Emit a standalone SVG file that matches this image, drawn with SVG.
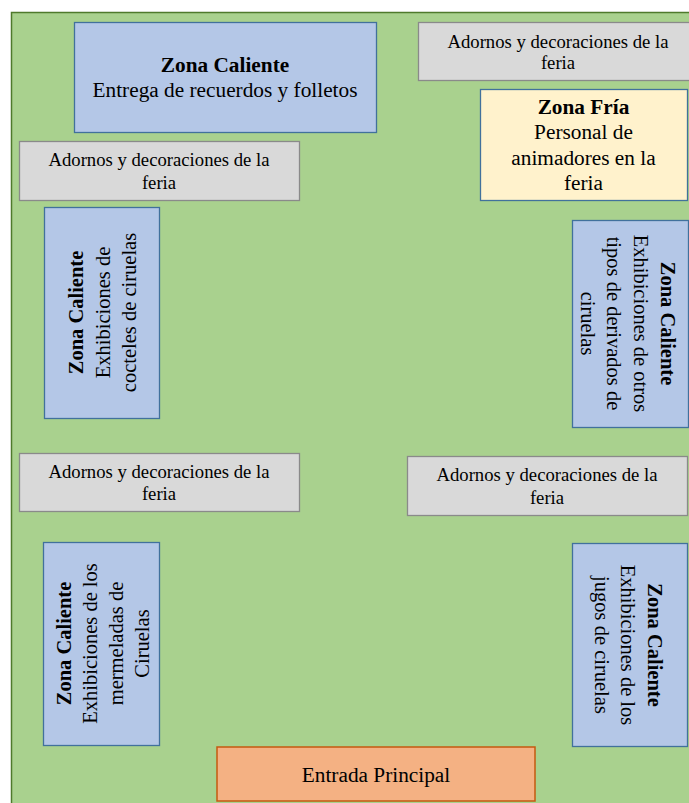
<svg xmlns="http://www.w3.org/2000/svg" width="689" height="803" viewBox="0 0 689 803">
<style>
text{font-family:"Liberation Serif","Times New Roman",serif;fill:#000;text-anchor:middle}
.hot{fill:#b4c7e7;stroke:#41719c;stroke-width:1.3}
.deco{fill:#d9d9d9;stroke:#8a8a8a;stroke-width:1.3}
.cold{fill:#fff2cc;stroke:#41719c;stroke-width:1.3}
.door{fill:#f4b183;stroke:#c55a11;stroke-width:1.5}
.t21{font-size:21.3px}
.t20{font-size:20.5px}
.t18{font-size:18.7px}
.b{font-weight:bold}
</style>
<rect x="0" y="0" width="689" height="803" fill="#ffffff"/>
<rect id="terreno" x="11.5" y="12.5" width="700" height="800" fill="#a9d18e" stroke="#4f7a2c" stroke-width="1.5"/>
<g id="connectors"></g>
<g id="zona-caliente-recuerdos">
<rect class="hot" x="74.5" y="22.5" width="302" height="110"/>
<text class="t21 b" x="225" y="72">Zona Caliente</text>
<text class="t21" x="225" y="97">Entrega de recuerdos y folletos</text>
</g>
<g id="adornos-1">
<rect class="deco" x="418.5" y="22.5" width="280" height="58"/>
<text class="t18" x="558" y="47.5">Adornos y decoraciones de la</text>
<text class="t18" x="558" y="69">feria</text>
</g>
<g id="zona-fria">
<rect class="cold" x="480.5" y="89.5" width="207" height="111"/>
<text class="t21 b" x="583.5" y="113.5">Zona Fría</text>
<text class="t21" x="583.5" y="139">Personal de</text>
<text class="t21" x="583.5" y="164.5">animadores en la</text>
<text class="t21" x="583.5" y="190">feria</text>
</g>
<g id="adornos-2">
<rect class="deco" x="19.5" y="141.5" width="280" height="59"/>
<text class="t18" x="159" y="166">Adornos y decoraciones de la</text>
<text class="t18" x="159" y="188.5">feria</text>
</g>
<g id="zona-caliente-cocteles">
<rect class="hot" x="44.5" y="207.5" width="115" height="211"/>
<text class="t20 b" x="83" y="312.5" transform="rotate(-90 83 312.5)">Zona Caliente</text>
<text class="t20" x="109.5" y="312.5" transform="rotate(-90 109.5 312.5)">Exhibiciones de</text>
<text class="t20" x="136" y="312.5" transform="rotate(-90 136 312.5)">cocteles de ciruelas</text>
</g>
<g id="zona-caliente-derivados">
<rect class="hot" x="572.5" y="220.5" width="116" height="207"/>
<text class="t20 b" x="660.5" y="323.5" transform="rotate(90 660.5 323.5)">Zona Caliente</text>
<text class="t20" x="633.5" y="323.5" transform="rotate(90 633.5 323.5)">Exhibiciones de otros</text>
<text class="t20" x="607" y="323.5" transform="rotate(90 607 323.5)">tipos de derivados de</text>
<text class="t20" x="580.5" y="323.5" transform="rotate(90 580.5 323.5)">ciruelas</text>
</g>
<g id="adornos-3">
<rect class="deco" x="19.5" y="453.5" width="280" height="58"/>
<text class="t18" x="159" y="477.5">Adornos y decoraciones de la</text>
<text class="t18" x="159" y="500">feria</text>
</g>
<g id="adornos-4">
<rect class="deco" x="407.5" y="456.5" width="280" height="59"/>
<text class="t18" x="547" y="481">Adornos y decoraciones de la</text>
<text class="t18" x="547" y="503.5">feria</text>
</g>
<g id="zona-caliente-mermeladas">
<rect class="hot" x="43.5" y="542.5" width="116" height="203"/>
<text class="t20 b" x="70.5" y="643.5" transform="rotate(-90 70.5 643.5)">Zona Caliente</text>
<text class="t20" x="96.5" y="643.5" transform="rotate(-90 96.5 643.5)">Exhibiciones de los</text>
<text class="t20" x="122.5" y="643.5" transform="rotate(-90 122.5 643.5)">mermeladas de</text>
<text class="t20" x="148.5" y="643.5" transform="rotate(-90 148.5 643.5)">Ciruelas</text>
</g>
<g id="zona-caliente-jugos">
<rect class="hot" x="572.5" y="543.5" width="115" height="203"/>
<text class="t20 b" x="647.5" y="645" transform="rotate(90 647.5 645)">Zona Caliente</text>
<text class="t20" x="621" y="645" transform="rotate(90 621 645)">Exhibiciones de los</text>
<text class="t20" x="594.5" y="645" transform="rotate(90 594.5 645)">jugos de ciruelas</text>
</g>
<g id="entrada-principal">
<rect class="door" x="217" y="747" width="318" height="54"/>
<text class="t21" x="376" y="781.5">Entrada Principal</text>
</g>
</svg>
